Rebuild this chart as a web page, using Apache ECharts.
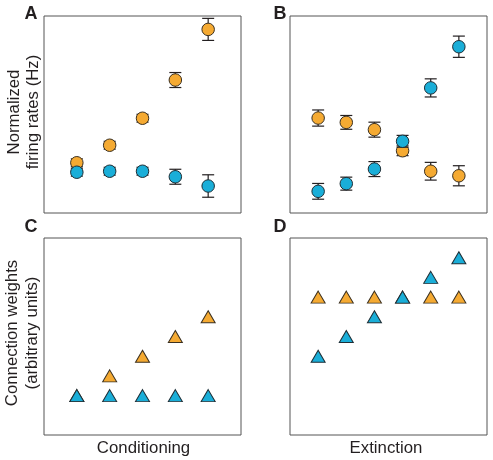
<!DOCTYPE html>
<html>
<head>
<meta charset="utf-8">
<script src="https://cdn.jsdelivr.net/npm/echarts@6/dist/echarts.min.js"></script>
<style>html,body{margin:0;padding:0;background:#fff;}#c{width:493px;height:460px;}</style>
</head>
<body>
<div id="c"></div>
<script>
// ---- data ----
const condTrials = [1, 2, 3, 4, 5];
const extTrials = [1, 2, 3, 4, 5, 6];

const aOrange = [25.5, 34.4, 48.1, 67.5, 93.2];
const aOrangeErr = [2, 2, 2, 3.8, 5.6];
const aBlue = [20.7, 21.2, 21.2, 18.4, 13.7];
const aBlueErr = [2, 2, 2, 3.8, 5.7];

const bOrange = [48.2, 46.0, 42.3, 31.6, 21.2, 18.9];
const bOrangeErr = [4.1, 3.5, 3.8, 2.5, 4.5, 5.1];
const bBlue = [11.0, 14.9, 22.3, 36.4, 63.5, 84.4];
const bBlueErr = [4.0, 3.3, 3.8, 3.0, 4.6, 5.4];

const cOrange = [20, 30, 40, 50, 60];
const cBlue = [20, 20, 20, 20, 20];

const dOrange = [70, 70, 70, 70, 70, 70];
const dBlue = [40, 50, 60, 70, 80, 90];

const panelLetters = ['A', 'B', 'C', 'D'];
const yLabelTop = 'Normalized\nfiring rates (Hz)';
const yLabelBottom = 'Connection weights\n(arbitrary units)';
const xLabelLeft = 'Conditioning';
const xLabelRight = 'Extinction';

// ---- style ----
const ORANGE = '#F5AA32';
const BLUE = '#1AAED8';
const INK = '#231F20';
const FONT = '"Liberation Sans", Arial, sans-serif';

const grids = [
  {left: 44, top: 16, width: 197, height: 197},
  {left: 290, top: 16, width: 197, height: 197},
  {left: 44, top: 238, width: 197, height: 197},
  {left: 290, top: 238, width: 197, height: 197}
];
const xMax = [6, 7, 6, 7];

function zip(xs, ys, es) {
  return xs.map((x, i) => es ? [x, ys[i], es[i]] : [x, ys[i]]);
}

function errRender(params, api) {
  const x = api.value(0), y = api.value(1), e = api.value(2);
  const t = api.coord([x, y + e]);
  const b = api.coord([x, y - e]);
  const hw = 6;
  const st = {stroke: INK, lineWidth: 1.2};
  return {
    type: 'group',
    children: [
      {type: 'line', shape: {x1: t[0], y1: t[1], x2: b[0], y2: b[1]}, style: st},
      {type: 'line', shape: {x1: t[0] - hw, y1: t[1], x2: t[0] + hw, y2: t[1]}, style: st},
      {type: 'line', shape: {x1: b[0] - hw, y1: b[1], x2: b[0] + hw, y2: b[1]}, style: st}
    ]
  };
}

const series = [];
function addPanel(idx, xs, orange, blue, oErr, bErr, symbol) {
  const size = symbol === 'circle' ? 12.5 : [14, 12];
  if (oErr) series.push({type: 'custom', xAxisIndex: idx, yAxisIndex: idx, renderItem: errRender, data: zip(xs, orange, oErr), z: 2, silent: true});
  series.push({type: 'scatter', xAxisIndex: idx, yAxisIndex: idx, symbol: symbol, symbolSize: size,
    data: zip(xs, orange), itemStyle: {color: ORANGE, borderColor: '#3b3020', borderWidth: 1, opacity: 1}, z: 3});
  if (bErr) series.push({type: 'custom', xAxisIndex: idx, yAxisIndex: idx, renderItem: errRender, data: zip(xs, blue, bErr), z: 4, silent: true});
  series.push({type: 'scatter', xAxisIndex: idx, yAxisIndex: idx, symbol: symbol, symbolSize: size,
    data: zip(xs, blue), itemStyle: {color: BLUE, borderColor: '#1e2e36', borderWidth: 1, opacity: 1}, z: 5});
}
addPanel(0, condTrials, aOrange, aBlue, aOrangeErr, aBlueErr, 'circle');
addPanel(1, extTrials, bOrange, bBlue, bOrangeErr, bBlueErr, 'circle');
addPanel(2, condTrials, cOrange, cBlue, null, null, 'triangle');
addPanel(3, extTrials, dOrange, dBlue, null, null, 'triangle');

const hidden = {axisLine: {show: false}, axisTick: {show: false}, axisLabel: {show: false}, splitLine: {show: false}};

const letterPos = [[31, 14], [280, 14], [31, 227], [280, 227]];
const graphic = [];
panelLetters.forEach((L, i) => {
  graphic.push({type: 'text', x: letterPos[i][0], y: letterPos[i][1],
    style: {text: L, fill: INK, fontSize: 18, fontWeight: 'bold', fontFamily: FONT, align: 'center', verticalAlign: 'middle'}});
});
graphic.push({type: 'text', x: 23.5, y: 112, rotation: Math.PI / 2,
  style: {text: yLabelTop, fill: INK, fontSize: 16.8, fontFamily: FONT, lineHeight: 19, align: 'center', verticalAlign: 'middle'}});
graphic.push({type: 'text', x: 22, y: 333, rotation: Math.PI / 2,
  style: {text: yLabelBottom, fill: INK, fontSize: 16.8, fontFamily: FONT, lineHeight: 20, align: 'center', verticalAlign: 'middle'}});
graphic.push({type: 'text', x: 143.5, y: 448,
  style: {text: xLabelLeft, fill: INK, fontSize: 16.8, fontFamily: FONT, align: 'center', verticalAlign: 'middle'}});
graphic.push({type: 'text', x: 386, y: 448,
  style: {text: xLabelRight, fill: INK, fontSize: 16.8, fontFamily: FONT, align: 'center', verticalAlign: 'middle'}});

const option = {
  animation: false,
  backgroundColor: '#fff',
  grid: grids.map(g => Object.assign({show: true, borderColor: '#555', borderWidth: 1, backgroundColor: 'transparent'}, g)),
  xAxis: grids.map((g, i) => Object.assign({type: 'value', gridIndex: i, min: 0, max: xMax[i]}, hidden)),
  yAxis: grids.map((g, i) => Object.assign({type: 'value', gridIndex: i, min: 0, max: 100}, hidden)),
  series: series,
  graphic: graphic
};

const chart = echarts.init(document.getElementById('c'), null, {renderer: 'canvas'});
chart.setOption(option);
</script>
</body>
</html>
